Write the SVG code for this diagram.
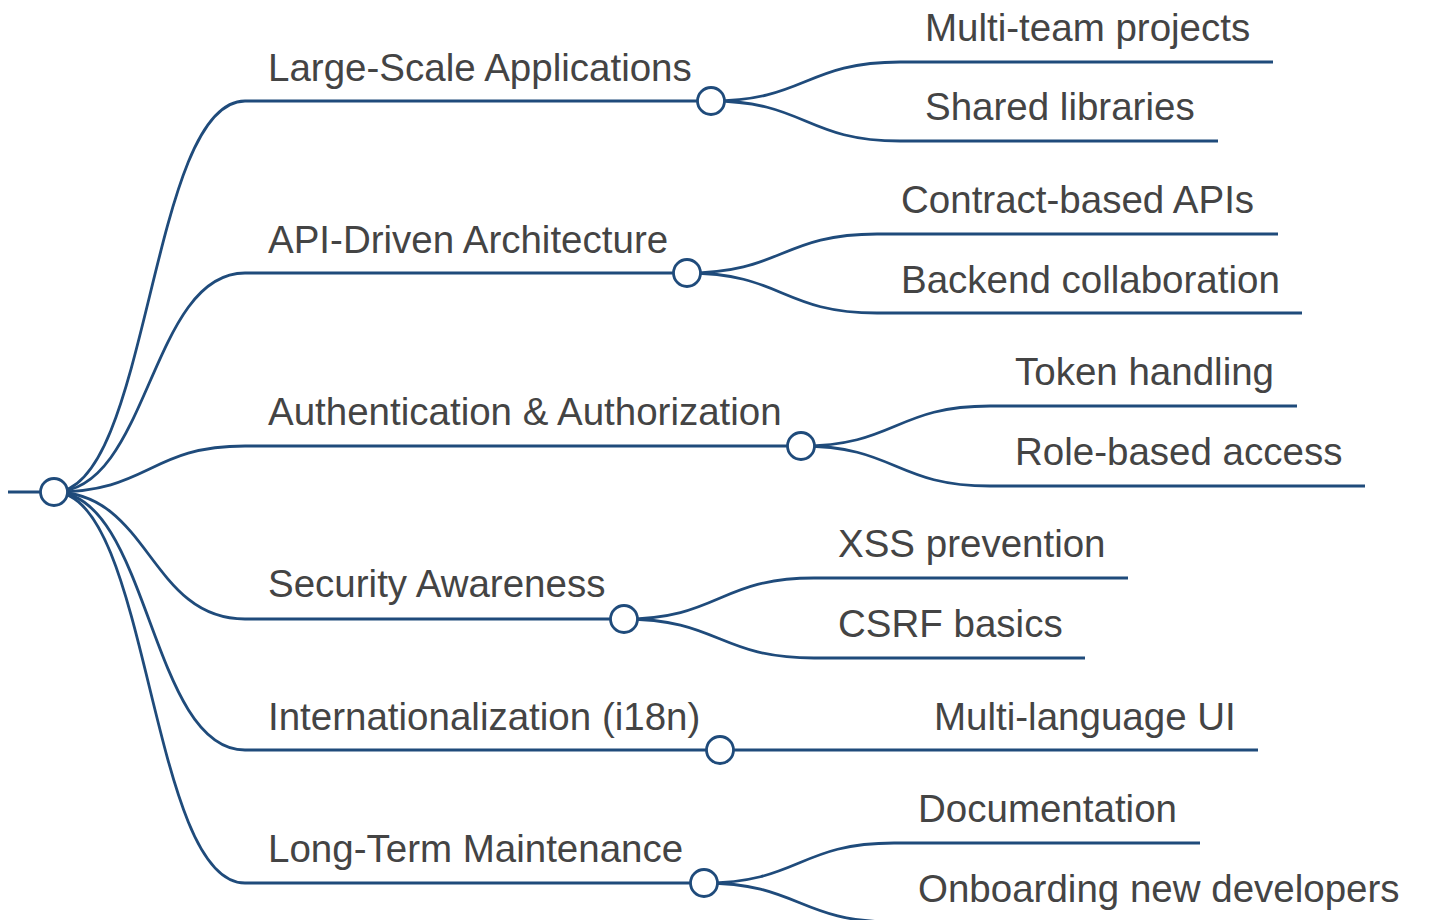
<svg xmlns="http://www.w3.org/2000/svg" width="1432" height="920" viewBox="0 0 1432 920">
<style>
.lk{fill:none;stroke:#1f4b7b;stroke-width:2.8}
.ul{stroke:#1f4b7b;stroke-width:2.8;fill:none}
.dot{fill:#fff;stroke:#1f4b7b;stroke-width:2.8}
.t{font-family:"Liberation Sans",Arial,sans-serif;font-size:38.5px;fill:#444444}
</style>
<rect width="1432" height="920" fill="#fff"/>
<g id="connectors">
<path class="lk" d="M54,492 C149.5,492 149.5,101 245,101"/>
<path class="lk" d="M54,492 C149.5,492 149.5,273 245,273"/>
<path class="lk" d="M54,492 C149.5,492 149.5,446 245,446"/>
<path class="lk" d="M54,492 C149.5,492 149.5,619 245,619"/>
<path class="lk" d="M54,492 C149.5,492 149.5,750 245,750"/>
<path class="lk" d="M54,492 C149.5,492 149.5,883 245,883"/>
<path class="lk" d="M711,101 C805.5,101 805.5,62 900,62"/>
<path class="lk" d="M711,101 C805.5,101 805.5,141 900,141"/>
<path class="lk" d="M687,273 C782,273 782,234 877,234"/>
<path class="lk" d="M687,273 C782,273 782,313 877,313"/>
<path class="lk" d="M801,446 C895.5,446 895.5,406 990,406"/>
<path class="lk" d="M801,446 C895.5,446 895.5,486 990,486"/>
<path class="lk" d="M624,619 C719,619 719,578 814,578"/>
<path class="lk" d="M624,619 C719,619 719,658 814,658"/>
<path class="lk" d="M720,750 L910,750"/>
<path class="lk" d="M704,883 C799,883 799,843 894,843"/>
<path class="lk" d="M704,883 C799,883 799,922 894,922"/>
</g>
<g id="root">
<line class="ul" x1="8" y1="492" x2="54" y2="492"/>
<circle class="dot" cx="54" cy="492" r="13.5"/>
</g>
<g id="n-large-scale">
<line class="ul" x1="245" y1="101" x2="711" y2="101"/>
<circle class="dot" cx="711" cy="101" r="13.5"/>
<text class="t" x="268" y="81">Large-Scale Applications</text>
</g>
<g id="n-multi-team">
<line class="ul" x1="900" y1="62" x2="1273" y2="62"/>
<text class="t" x="925" y="41">Multi-team projects</text>
</g>
<g id="n-shared-libs">
<line class="ul" x1="900" y1="141" x2="1218" y2="141"/>
<text class="t" x="925" y="120">Shared libraries</text>
</g>
<g id="n-api">
<line class="ul" x1="245" y1="273" x2="687" y2="273"/>
<circle class="dot" cx="687" cy="273" r="13.5"/>
<text class="t" x="268" y="253">API-Driven Architecture</text>
</g>
<g id="n-contract">
<line class="ul" x1="877" y1="234" x2="1278" y2="234"/>
<text class="t" x="901" y="213">Contract-based APIs</text>
</g>
<g id="n-backend">
<line class="ul" x1="877" y1="313" x2="1302" y2="313"/>
<text class="t" x="901" y="293">Backend collaboration</text>
</g>
<g id="n-auth">
<line class="ul" x1="245" y1="446" x2="801" y2="446"/>
<circle class="dot" cx="801" cy="446" r="13.5"/>
<text class="t" x="268" y="425">Authentication &amp; Authorization</text>
</g>
<g id="n-token">
<line class="ul" x1="990" y1="406" x2="1297" y2="406"/>
<text class="t" x="1015" y="385">Token handling</text>
</g>
<g id="n-role">
<line class="ul" x1="990" y1="486" x2="1365" y2="486"/>
<text class="t" x="1015" y="465">Role-based access</text>
</g>
<g id="n-security">
<line class="ul" x1="245" y1="619" x2="624" y2="619"/>
<circle class="dot" cx="624" cy="619" r="13.5"/>
<text class="t" x="268" y="597">Security Awareness</text>
</g>
<g id="n-xss">
<line class="ul" x1="814" y1="578" x2="1128" y2="578"/>
<text class="t" x="838" y="557">XSS prevention</text>
</g>
<g id="n-csrf">
<line class="ul" x1="814" y1="658" x2="1085" y2="658"/>
<text class="t" x="838" y="637">CSRF basics</text>
</g>
<g id="n-i18n">
<line class="ul" x1="245" y1="750" x2="720" y2="750"/>
<circle class="dot" cx="720" cy="750" r="13.5"/>
<text class="t" x="268" y="730">Internationalization (i18n)</text>
</g>
<g id="n-multi-lang">
<line class="ul" x1="910" y1="750" x2="1258" y2="750"/>
<text class="t" x="934" y="730">Multi-language UI</text>
</g>
<g id="n-maint">
<line class="ul" x1="245" y1="883" x2="704" y2="883"/>
<circle class="dot" cx="704" cy="883" r="13.5"/>
<text class="t" x="268" y="862">Long-Term Maintenance</text>
</g>
<g id="n-docs">
<line class="ul" x1="894" y1="843" x2="1200" y2="843"/>
<text class="t" x="918" y="822">Documentation</text>
</g>
<g id="n-onboarding">
<line class="ul" x1="894" y1="922" x2="1421" y2="922"/>
<text class="t" x="918" y="902">Onboarding new developers</text>
</g>
</svg>
